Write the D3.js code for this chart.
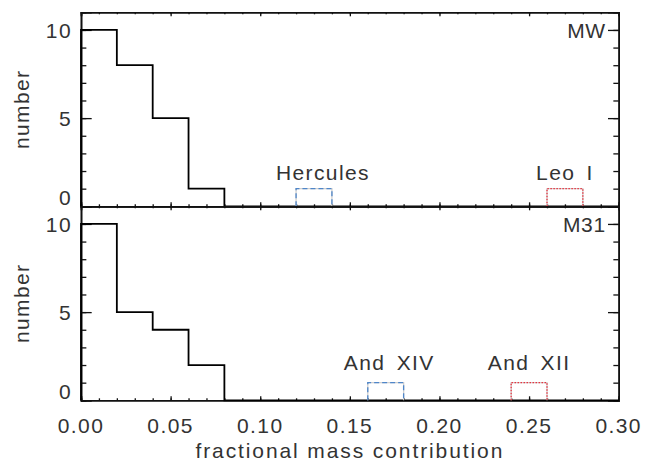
<!DOCTYPE html>
<html>
<head>
<meta charset="utf-8">
<script src="https://cdn.jsdelivr.net/npm/d3@7"></script>
<style>
  body { margin: 0; background: #fff; }
  text { font-family: "Liberation Sans", Arial, sans-serif; font-size: 21px; fill: #333; letter-spacing: 1.4px; white-space: pre; }
</style>
</head>
<body>
<div id="chart"></div>
<script>
// chart size, matches the reference picture
const width = 659;
const height = 464;
const margin = {left: 81, right: 40.3, top: 12.3, bottom: 63.7};

// histogram bin edges (fractional mass contribution)
const binEdges = [0, 0.02, 0.04, 0.06, 0.08, 0.10, 0.12, 0.14, 0.16, 0.18, 0.20, 0.22, 0.24, 0.26, 0.28, 0.30];

// counts per bin, MW panel and M31 panel
const mwCounts  = [10, 8, 5, 1, 0, 0, 0, 0, 0, 0, 0, 0, 0, 0, 0];
const m31Counts = [10, 5, 4, 2, 0, 0, 0, 0, 0, 0, 0, 0, 0, 0, 0];

// single named satellites, drawn as their own one-bin boxes
const mwNamed  = [{name: "Hercules", x0: 0.12, x1: 0.14, count: 1, kind: "dash", lx: 0.135, ly: 1.5},
                  {name: "Leo I",    x0: 0.26, x1: 0.28, count: 1, kind: "dot",  lx: 0.27,  ly: 1.5}];
const m31Named = [{name: "And XIV",  x0: 0.16, x1: 0.18, count: 1, kind: "dash", lx: 0.172, ly: 1.7},
                  {name: "And XII",  x0: 0.24, x1: 0.26, count: 1, kind: "dot",  lx: 0.25,  ly: 1.7}];

// tick labels
const xTickVals = [0, 0.05, 0.10, 0.15, 0.20, 0.25, 0.30];
const yTickVals = [0, 5, 10];

const svg = d3.select("#chart")
  .append("svg")
  .attr("width", width)
  .attr("height", height);

// x scale shared by both panels
const xScale = d3.scaleLinear()
  .domain([0, 0.30])
  .range([margin.left, width - margin.right]);

const panelH = (height - margin.top - margin.bottom) / 2;

// one y scale per panel
const yTop = d3.scaleLinear().domain([0, 11]).range([margin.top + panelH, margin.top]);
const yBot = d3.scaleLinear().domain([0, 11]).range([margin.top + 2 * panelH, margin.top + panelH]);

const xMinor = d3.range(0, 31).map(i => i / 100);
const yMinor = d3.range(0, 11);

function drawPanel(yScale, counts, named, label, showXLabels) {
  const g = svg.append("g");
  const x0 = xScale.range()[0], x1 = xScale.range()[1];
  const yb = yScale.range()[0], yt = yScale.range()[1];

  // ticks pointing inward on all four sides
  const axes = [
    {axis: d3.axisTop(xScale), t: `translate(0,${yb})`, major: xTickVals, minor: xMinor, len: 4},
    {axis: d3.axisBottom(xScale), t: `translate(0,${yt})`, major: xTickVals, minor: xMinor, len: 4},
    {axis: d3.axisRight(yScale), t: `translate(${x0},0)`, major: yTickVals, minor: yMinor, len: 10.7},
    {axis: d3.axisLeft(yScale), t: `translate(${x1},0)`, major: yTickVals, minor: yMinor, len: 10.7}
  ];
  axes.forEach(a => {
    g.append("g").attr("transform", a.t)
      .call(a.axis.tickValues(a.minor).tickSize(a.len / 2).tickFormat(""));
    g.append("g").attr("transform", a.t)
      .call(a.axis.tickValues(a.major).tickSize(a.len).tickFormat(""));
  });
  g.selectAll(".domain").attr("stroke", "#111").attr("stroke-width", 1.6);
  g.selectAll(".tick line").attr("stroke", "#111").attr("stroke-width", 1.3);

  // y tick labels, the 0 label sits just above the axis
  g.selectAll(".ylab")
    .data(yTickVals)
    .enter()
    .append("text")
      .attr("x", x0 - 9)
      .attr("y", d => d === 0 ? yScale(d) - 1 : yScale(d) + 8)
      .attr("text-anchor", "end")
      .text(d => d);

  // y title
  g.append("text")
    .attr("transform", `translate(29,${(yb + yt) / 2}) rotate(-90)`)
    .attr("text-anchor", "middle")
    .text("number");

  // panel name next to the right-hand tick at 10
  g.append("text")
    .attr("x", x1 - 13)
    .attr("y", yScale(10) + 8)
    .attr("text-anchor", "end")
    .style("letter-spacing", "0.6px")
    .text(label);

  if (showXLabels) {
    g.selectAll(".xlab")
      .data(xTickVals)
      .enter()
      .append("text")
        .attr("x", d => xScale(d))
        .attr("y", yb + 33)
        .attr("text-anchor", "middle")
        .text(d => d3.format(".2f")(d));
  }

  // black histogram as a step line
  const pts = counts.map((c, i) => [binEdges[i], c]);
  pts.push([binEdges[binEdges.length - 1], counts[counts.length - 1]]);
  const line = d3.line()
    .x(d => xScale(d[0]))
    .y(d => yScale(d[1]))
    .curve(d3.curveStepAfter);
  g.append("path")
    .attr("d", line([[0, 0]].concat(pts)))
    .attr("fill", "none")
    .attr("stroke", "#000")
    .attr("stroke-width", 1.8);

  // named satellites, coloured boxes
  named.forEach(s => {
    const box = [[s.x0, 0], [s.x0, s.count], [s.x1, s.count], [s.x1, 0]];
    const boxLine = d3.line().x(d => xScale(d[0])).y(d => yScale(d[1]));
    g.append("path")
      .attr("d", boxLine(box))
      .attr("fill", "none")
      .attr("stroke", "#cfcfcf")
      .attr("stroke-width", 1.3);
    g.append("path")
      .attr("d", boxLine(box))
      .attr("fill", "none")
      .attr("stroke", s.kind === "dash" ? "#4f86c9" : "#e8333f")
      .attr("stroke-width", 1.3)
      .attr("stroke-dasharray", s.kind === "dash" ? "5,3" : "1.5,1.5");
    g.append("text")
      .attr("x", xScale(s.lx))
      .attr("y", yScale(s.ly))
      .attr("text-anchor", "middle")
      .style("word-spacing", "4px")
      .text(s.name);
  });
}

drawPanel(yTop, mwCounts, mwNamed, "MW", false);
drawPanel(yBot, m31Counts, m31Named, "M31", true);

// x title
svg.append("text")
  .attr("x", (xScale.range()[0] + xScale.range()[1]) / 2)
  .attr("y", height - 6)
  .attr("text-anchor", "middle")
  .style("letter-spacing", "1.9px")
  .text("fractional mass contribution");
</script>
</body>
</html>
